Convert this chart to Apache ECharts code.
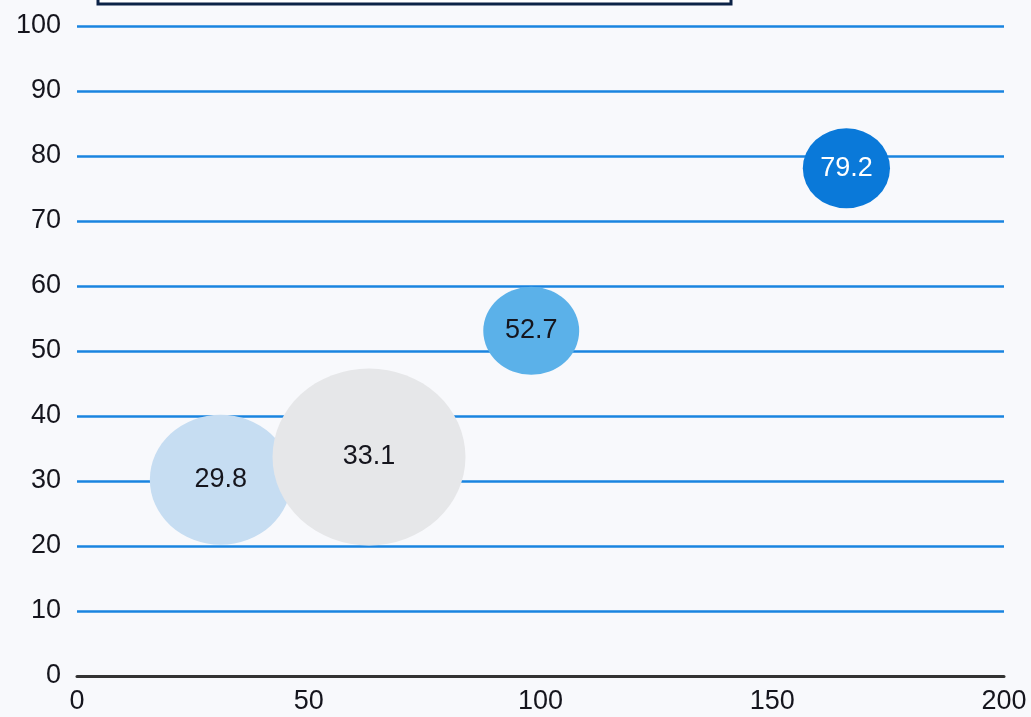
<!DOCTYPE html>
<html>
<head>
<meta charset="utf-8">
<script src="https://cdn.jsdelivr.net/npm/echarts@6/dist/echarts.min.js"></script>
<style>
html,body{margin:0;padding:0;background:#f8f9fc;}
#chart{width:1031px;height:717px;}
</style>
</head>
<body>
<div id="chart"></div>
<script>
// Data
const xValues = [31, 63, 98, 166];
const yValues = [30.2, 33.7, 53.1, 78.1];
const bubbleSizes = [130, 177, 88, 80];
const labels = ['29.8', '33.1', '52.7', '79.2'];
const colors = ['#c6ddf2', '#e6e7e9', '#5bb1e9', '#0a79d9'];
const labelColors = ['#15151d', '#15151d', '#15151d', '#ffffff'];
const xTicks = [0, 50, 100, 150, 200];
const yTicks = [0, 10, 20, 30, 40, 50, 60, 70, 80, 90, 100];

const chart = echarts.init(document.getElementById('chart'));
const font = '"Liberation Sans", Arial, sans-serif';

const seriesData = xValues.map((x, i) => ({
  value: [x, yValues[i], bubbleSizes[i]],
  symbolSize: [bubbleSizes[i] * 1.09, bubbleSizes[i]],
  itemStyle: { color: colors[i], opacity: 1 },
  label: { color: labelColors[i], formatter: labels[i] }
}));

chart.setOption({
  backgroundColor: '#f8f9fc',
  animation: false,
  graphic: [{
    type: 'rect',
    shape: { x: 98, y: -40, width: 633, height: 44 },
    style: { fill: '#ffffff', stroke: '#0c2347', lineWidth: 3 }
  }],
  grid: { left: 77, right: 27, top: 26, bottom: 41, containLabel: false },
  xAxis: {
    type: 'value',
    min: xTicks[0],
    max: xTicks[xTicks.length - 1],
    interval: 50,
    axisLine: { show: true, lineStyle: { color: '#333333', width: 3 } },
    axisTick: { show: false },
    splitLine: { show: false },
    axisLabel: {
      color: '#15151d', fontSize: 27, fontFamily: font, margin: 12,
      formatter: v => xTicks.includes(v) ? String(v) : ''
    }
  },
  yAxis: {
    type: 'value',
    min: yTicks[0],
    max: yTicks[yTicks.length - 1],
    interval: 10,
    axisLine: { show: false },
    axisTick: { show: false },
    splitLine: { show: true, lineStyle: { color: '#1a84e0', width: 2.5 } },
    axisLabel: {
      color: '#15151d', fontSize: 27, fontFamily: font, margin: 16,
      formatter: v => yTicks.includes(v) ? String(v) : ''
    }
  },
  series: [{
    type: 'scatter',
    data: seriesData,
    label: {
      show: true,
      position: 'inside',
      fontSize: 27,
      fontFamily: font
    },
    emphasis: { disabled: true }
  }]
});
</script>
</body>
</html>
